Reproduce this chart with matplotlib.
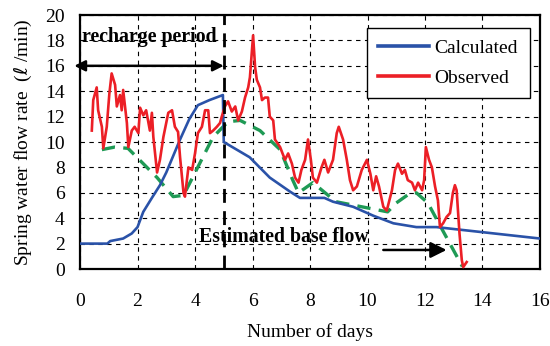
import matplotlib
matplotlib.use("Agg")
import matplotlib.pyplot as plt

plt.rcParams["font.family"] = ["Liberation Serif", "DejaVu Serif"]

# Calculated spring flow (blue)
calc_days = [0.0, 0.95, 1.05, 1.5, 1.8, 2.0, 2.2, 2.5, 2.78, 3.0, 3.48, 3.8, 4.1,
             4.5, 4.97, 5.0, 5.3, 5.9, 6.6, 7.3, 7.65, 8.5, 8.8, 9.5, 10.2,
             10.9, 11.7, 12.4, 14.0, 16.0]
calc_flow = [2.0, 2.0, 2.2, 2.4, 2.8, 3.3, 4.5, 5.6, 6.6, 7.6, 10.2, 11.8, 12.9,
             13.3, 13.7, 10.0, 9.6, 8.8, 7.2, 6.1, 5.6, 5.6, 5.3, 4.9, 4.2,
             3.6, 3.3, 3.3, 2.9, 2.4]

# Observed spring flow (red)
obs_days = [0.41, 0.46, 0.58, 0.63, 0.76, 0.81, 0.93, 1.02, 1.1, 1.22, 1.28,
            1.39, 1.45, 1.5, 1.63, 1.68, 1.8, 1.9, 2.03, 2.09, 2.2, 2.3, 2.43,
            2.5, 2.55, 2.68, 2.78, 2.9, 3.07, 3.2, 3.3, 3.41, 3.48, 3.6, 3.65,
            3.77, 3.9, 4.0, 4.1, 4.24, 4.35, 4.46, 4.52, 4.63, 4.76, 4.87, 4.93,
            5.04, 5.15, 5.28, 5.4, 5.5, 5.63, 5.74, 5.85, 5.91, 6.02, 6.09,
            6.15, 6.26, 6.33, 6.43, 6.54, 6.6, 6.72, 6.78, 6.96, 7.13, 7.24,
            7.37, 7.48, 7.6, 7.7, 7.83, 7.93, 8.03, 8.1, 8.24, 8.4, 8.5, 8.63,
            8.8, 8.93, 9.0, 9.15, 9.28, 9.39, 9.5, 9.63, 9.8, 9.98, 10.1, 10.2,
            10.3, 10.4, 10.55, 10.67, 10.85, 10.96, 11.06, 11.2, 11.3, 11.4,
            11.55, 11.65, 11.76, 11.9, 11.97, 12.03, 12.14, 12.24, 12.35,
            12.45, 12.52, 12.63, 12.75, 12.87, 12.97, 13.04, 13.1, 13.2, 13.28,
            13.33, 13.45]
obs_flow = [10.9, 13.3, 14.3, 12.5, 11.2, 9.5, 11.2, 13.8, 15.4, 14.5, 12.8,
            13.7, 12.5, 14.1, 11.5, 9.6, 10.9, 11.2, 10.7, 12.7, 12.1, 12.5,
            10.9, 12.3, 10.4, 7.6, 8.6, 10.4, 12.3, 12.5, 11.2, 10.8, 8.8, 6.0,
            5.7, 8.0, 7.8, 9.1, 10.7, 11.2, 12.5, 12.5, 10.7, 10.9, 11.2, 11.5,
            12.0, 12.8, 13.2, 12.4, 12.8, 11.7, 12.4, 13.5, 14.3, 15.1, 18.4,
            15.9, 14.9, 14.3, 13.3, 13.5, 13.5, 12.0, 11.7, 10.2, 9.6, 8.6,
            9.1, 8.3, 7.2, 6.8, 7.8, 8.6, 10.2, 8.6, 7.2, 6.8, 8.0, 8.6, 7.6,
            8.6, 10.7, 11.2, 10.2, 8.6, 7.0, 6.2, 6.5, 7.8, 8.6, 7.5, 6.2, 7.3,
            6.5, 4.9, 4.6, 6.2, 7.8, 8.3, 7.5, 7.8, 7.0, 6.8, 6.2, 6.8, 6.2,
            7.0, 9.6, 8.6, 8.0, 6.5, 5.4, 3.3, 3.6, 4.1, 4.4, 6.0, 6.6, 6.2,
            2.8, 0.7, 0.15, 0.55]

# Estimated base flow envelope (green dashed)
base_days = [0.76, 1.2, 1.67, 2.68, 3.24, 3.6, 4.63, 5.15, 5.57, 6.26, 6.96,
             7.4, 7.6, 8.1, 8.9, 10.7, 11.0, 11.5, 11.7, 12.1, 12.6, 13.3]
base_flow = [9.4, 9.6, 9.5, 7.2, 5.7, 5.8, 10.4, 11.6, 11.7, 10.9, 9.4,
             7.0, 6.0, 6.8, 5.3, 4.5, 5.2, 6.0, 6.0, 5.2, 3.1, 0.2]

recharge_end = 5.0

BLUE = "#2a52a8"
RED = "#ec1f26"
GREEN = "#1f9a55"

fig = plt.figure(figsize=(5.5, 3.46), dpi=100)
ax = fig.add_axes([0.1455, 0.2225, 0.8363, 0.7341])

ax.plot(base_days, base_flow, color=GREEN, lw=2.4, ls=(0, (4, 2.5)), zorder=2)
ax.plot(calc_days, calc_flow, color=BLUE, lw=1.9, zorder=3, label="Calculated")
ax.plot(obs_days, obs_flow, color=RED, lw=1.9, zorder=4, label="Observed")

ax.axvline(recharge_end, color="black", lw=2.0, ls=(0, (5, 3)), zorder=5)

ax.set_xlim(0, 16)
ax.set_ylim(0, 20)
ax.set_xticks(range(0, 17, 2))
ax.set_yticks(range(0, 21, 2))
ax.grid(True, color="black", ls=(0, (4, 4)), lw=0.8)
ax.tick_params(length=0, labelsize=14, colors="black")
ax.tick_params(axis="x", pad=17)
ax.tick_params(axis="y", pad=11)
for side in ax.spines.values():
    side.set_linewidth(1.6)

ax.set_xlabel("Number of days", fontsize=14, labelpad=10)
ax.set_ylabel("Spring water flow rate  ($\\ell$ /min)", fontsize=14, labelpad=8)

# recharge period annotation
ax.annotate("", xy=(-0.2, 16), xytext=(recharge_end, 16),
            arrowprops=dict(arrowstyle="<|-|>", color="black", lw=1.8,
                            mutation_scale=16, shrinkA=0, shrinkB=0),
            annotation_clip=False)
ax.text(0.07, 18.3, "recharge period", fontsize=14.3, fontweight="bold",
        va="center", ha="left")

# base flow annotation
ax.text(4.14, 2.5, "Estimated base flow", fontsize=14.3, fontweight="bold",
        va="center", ha="left")
ax.annotate("", xy=(12.75, 1.5), xytext=(10.55, 1.5),
            arrowprops=dict(arrowstyle="-|>", color="black", lw=1.8,
                            mutation_scale=24, shrinkA=0, shrinkB=0))

leg = ax.legend(loc="upper right", bbox_to_anchor=(0.978, 0.949), fontsize=14,
                fancybox=False, edgecolor="black", framealpha=1,
                borderaxespad=0, handlelength=2.6, handletextpad=0.3,
                labelspacing=0.6, borderpad=0.6)
leg.get_frame().set_linewidth(1.0)
for line in leg.get_lines():
    line.set_linewidth(2.6)

fig.savefig("out.png", dpi=100)
